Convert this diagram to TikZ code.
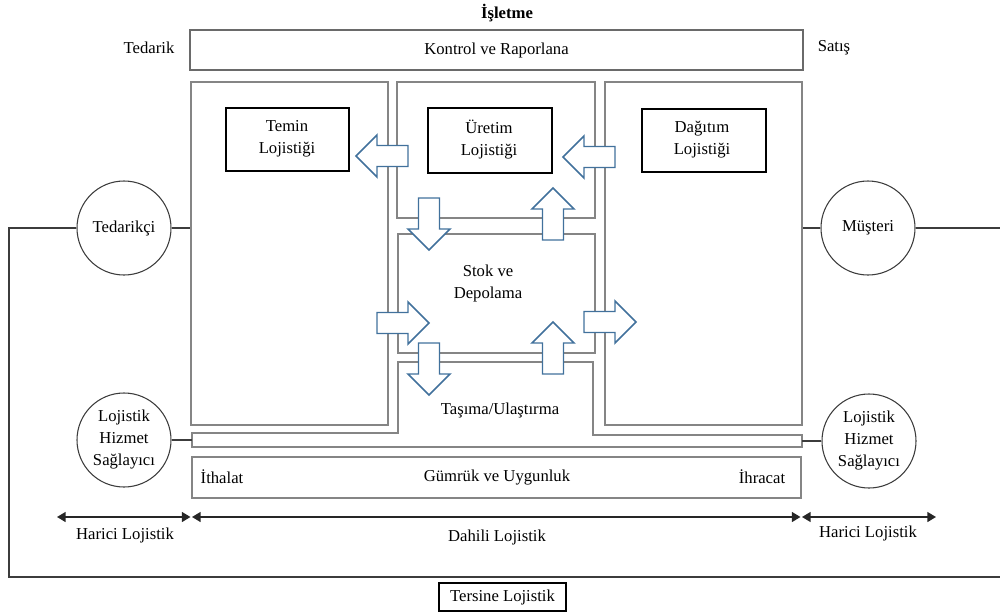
\documentclass[tikz,border=0pt]{standalone}
\usepackage{fontspec}
\setmainfont{Liberation Serif}
\usetikzlibrary{arrows.meta,fit}

\definecolor{frameg}{HTML}{858585}
\definecolor{topg}{HTML}{6A6A6A}
\definecolor{ringg}{HTML}{3C3C3C}
\definecolor{arrowblue}{HTML}{41719C}

\tikzset{
  txt/.style={font=\fontsize{12.5pt}{16.5pt}\selectfont, align=center, inner sep=0pt},
  panel/.style={draw=frameg, line width=1.3pt, inner sep=0pt},
  topbox/.style={draw=topg, line width=1.7pt, inner sep=0pt, txt},
  inbox/.style={draw=black, line width=0.8pt, inner sep=0pt, txt},
  ring/.style={circle, draw=ringg, line width=0.8pt, minimum size=70.5pt, inner sep=0pt, txt},
  link/.style={draw=ringg, line width=0.9pt},
  dim/.style={draw=black!85, line width=1.1pt, {Triangle[length=6.5pt,width=7.5pt]}-{Triangle[length=6.5pt,width=7.5pt]}},
  barrow/.style={draw=arrowblue, fill=white, line width=1.1pt, line join=miter},
  blockarrow/.pic={\draw[barrow] (0,-10.5) -- (31,-10.5) -- (31,-21) -- (52,0) -- (31,21) -- (31,10.5) -- (0,10.5) -- cycle;}
}

\begin{document}
\begin{tikzpicture}[x=0.75pt, y=-0.75pt]
\useasboundingbox (0,0) rectangle (1000,615);

% heading and control band
\node[txt, font=\fontsize{12.5pt}{16.5pt}\selectfont\bfseries] (isl) at (507,13) {İşletme};
\node[topbox, fit={(190,30)(803,70)}] (kon) {};
\node[txt] (kontxt) at (kon.center) {Kontrol ve Raporlana};
\node[txt] (ted-lbl) at (149,48) {Tedarik};
\node[txt] (sat-lbl) at (834,48) {Satış};

% three columns and the store
\node[panel, fit={(191,82)(388,425)}] (lcol) {};
\node[panel, fit={(397,82)(595,218)}] (mcol) {};
\node[panel, fit={(605,82)(802,425)}] (rcol) {};
\node[panel, fit={(398,234)(595,353)}] (stok) {};
\node[txt] (stoktxt) at (488,283) {Stok ve\\Depolama};

% transport band
\draw[panel] (398,362) -- (593,362) -- (593,435) -- (802,435) -- (802,447)
  -- (192,447) -- (192,433) -- (398,433) -- cycle;
\coordinate (tasW) at (192,440);
\coordinate (tasE) at (802,441);
\node[txt] (tastxt) at (500,410) {Taşıma/Ulaştırma};

% customs band
\node[panel, fit={(192,457)(801,498)}] (gum) {};
\node[txt] (gumtxt) at (497,478) {Gümrük ve Uygunluk};
\node[txt] (ith) at (222,477) {İthalat};
\node[txt] (ihr) at (762,477) {İhracat};

% function boxes
\node[inbox, fit={(226,108)(349,171)}] (temin) {};
\node[txt] at (287,139) {Temin\\Lojistiği};
\node[inbox, fit={(428,108)(552,173)}] (uretim) {};
\node[txt] at (489,140) {Üretim\\Lojistiği};
\node[inbox, fit={(642,109)(766,172)}] (dagitim) {};
\node[txt] at (702,140) {Dağıtım\\Lojistiği};

% partners
\node[ring] (ted) at (124,228) {Tedarikçi};
\node[ring] (mus) at (868,228) {Müşteri};
\node[ring] (lhsL) at (124,440) {Lojistik\\Hizmet\\Sağlayıcı};
\node[ring] (lhsR) at (869,441) {Lojistik\\Hizmet\\Sağlayıcı};

\draw[link] (ted.east) -- (ted.east -| lcol.west);
\draw[link] (mus.west) -- (mus.west -| rcol.east);
\draw[link] (lhsL.east) -- (lhsL.east -| tasW);
\draw[link] (lhsR.west) -- (lhsR.west -| tasE);

% reverse logistics loop
\coordinate (loopSW) at (9,577);
\coordinate (loopSE) at (1000,577);
\coordinate (loopNE) at (1000,228);
\draw[link] (ted.west) -| (loopSW) -- (loopSE);
\draw[link] (mus.east) -- (loopNE);
\node[draw=black, line width=0.9pt, minimum width=95.25pt, minimum height=21pt, inner sep=0pt, txt] (ters) at (502.5,597) {Tersine Lojistik};

% scope ranges
\coordinate (d0) at (57,517);
\coordinate (d1) at (190.5,517);
\coordinate (d2) at (192,517);
\coordinate (d3) at (800.5,517);
\coordinate (d4) at (802,517);
\coordinate (d5) at (936,517);
\draw[dim] (d0) -- (d1);
\draw[dim] (d2) -- (d3);
\draw[dim] (d4) -- (d5);
\node[txt] (har1) at (125,535) {Harici Lojistik};
\node[txt] (dah) at (497,537) {Dahili Lojistik};
\node[txt] (har2) at (868,533) {Harici Lojistik};

% material flows
\pic[rotate=180] at (408,156) {blockarrow};
\pic[rotate=180] at (615,157) {blockarrow};
\pic[rotate=-90] at (429,198) {blockarrow};
\pic[rotate=90] at (553,240) {blockarrow};
\pic at (377,323) {blockarrow};
\pic[rotate=-90] at (429,343) {blockarrow};
\pic[rotate=90] at (553,374) {blockarrow};
\pic at (584,322) {blockarrow};
\end{tikzpicture}
\end{document}
